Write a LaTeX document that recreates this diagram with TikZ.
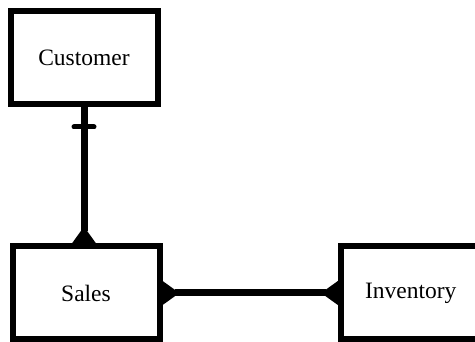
\documentclass[tikz,border=0pt]{standalone}
\usepackage{fontspec}
\setmainfont{Liberation Serif}
\usetikzlibrary{arrows.meta}

\begin{document}
\begin{tikzpicture}[
    x=1pt, y=1pt,
    entity/.style={rectangle, draw=black, line width=6pt, minimum width=147pt,
                   minimum height=93pt, align=center,
                   font=\fontsize{23.5}{28}\selectfont},
    rel/.style={line width=7pt, black},
    many/.tip={Triangle[reversed, length=17pt, width=23pt]},
    onemark/.style={line width=5pt, line cap=round, black},
  ]
  \useasboundingbox (0,0) rectangle (475,342);

  \node[entity] (customer) at (84,284.5) {Customer};
  \node[entity] (sales) at (86,49) {Sales};
  % cut off by the page on the right
  \node[entity, minimum width=200pt, text width=152pt, align=left]
    (inventory) at (441,49) {Inventory};

  \draw[rel, -{many}] (customer.south) -- (customer.south |- sales.north);
  \draw[onemark] ([shift={(-10pt,-20pt)}]customer.south) -- ++(20pt,0);
  \draw[rel, {many}-{many}] (sales.east) -- (inventory.west);
\end{tikzpicture}
\end{document}
